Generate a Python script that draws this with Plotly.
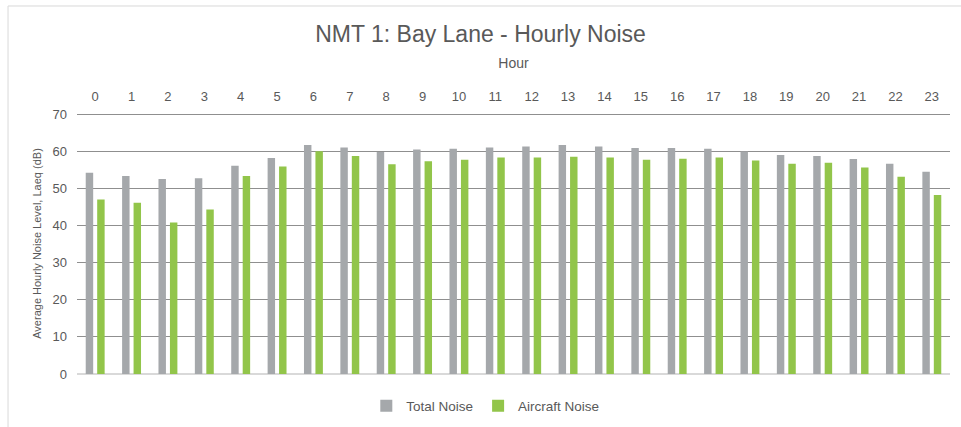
import plotly.graph_objects as go

# Hours of the day
hours = [str(h) for h in range(24)]

# Total noise (dB)
total_noise = [54.2, 53.3, 52.5, 52.7, 56.1, 58.2, 61.7, 61.0, 59.8, 60.5, 60.7, 61.0,
               61.3, 61.7, 61.3, 60.9, 60.9, 60.7, 59.9, 59.0, 58.7, 57.9, 56.6, 54.5]

# Aircraft noise (dB)
aircraft_noise = [47.0, 46.1, 40.8, 44.3, 53.3, 55.9, 60.0, 58.7, 56.5, 57.3, 57.7, 58.3,
                  58.3, 58.5, 58.3, 57.7, 58.0, 58.3, 57.5, 56.6, 56.9, 55.6, 53.1, 48.2]

font_color = '#595959'

fig = go.Figure()
fig.add_trace(go.Bar(x=hours, y=total_noise, name='Total Noise',
                     marker=dict(color='#A5A8AB', line=dict(width=0))))
fig.add_trace(go.Bar(x=hours, y=aircraft_noise, name='Aircraft Noise',
                     marker=dict(color='#92C54A', line=dict(width=0))))

fig.update_layout(
    width=961, height=427,
    margin=dict(l=77, r=11, t=113, b=53),
    paper_bgcolor='white', plot_bgcolor='white',
    font=dict(family='Liberation Sans, Arial, sans-serif', color=font_color),
    title=dict(text='NMT 1: Bay Lane - Hourly Noise', x=0.5, xanchor='center',
               y=0.92, yanchor='middle', font=dict(size=23, color=font_color)),
    barmode='group', bargap=0.37, bargroupgap=0.35,
    legend=dict(orientation='h', xref='container', yref='container',
                x=0.505, xanchor='center', y=0.049, yanchor='middle',
                font=dict(size=13.5, color=font_color), traceorder='normal',
                itemwidth=30),
)

fig.update_xaxes(side='top', title=dict(text='Hour', font=dict(size=14), standoff=17),
                 tickfont=dict(size=13), ticklabelstandoff=8,
                 showgrid=False, showline=False, ticks='', automargin=False)
fig.update_yaxes(range=[0, 70.3], tickvals=[0, 10, 20, 30, 40, 50, 60, 70],
                 tickfont=dict(size=13), ticklabelstandoff=9,
                 title=dict(text='Average Hourly Noise Level, Laeq (dB)', font=dict(size=11),
                            standoff=8),
                 showgrid=True, gridcolor='#8f8f8f', gridwidth=1,
                 zeroline=True, zerolinecolor='#d9d9d9', zerolinewidth=2,
                 showline=False, ticks='', automargin=False)

# chart frame
fig.add_shape(type='rect', xref='paper', yref='paper',
              x0=-0.079, x1=1.03, y0=-0.25, y1=1.41,
              line=dict(color='#d9d9d9', width=1), fillcolor='rgba(0,0,0,0)', layer='below')

fig.write_html('out.html', config={'displayModeBar': False},
               post_script="document.body.style.margin='0';")
